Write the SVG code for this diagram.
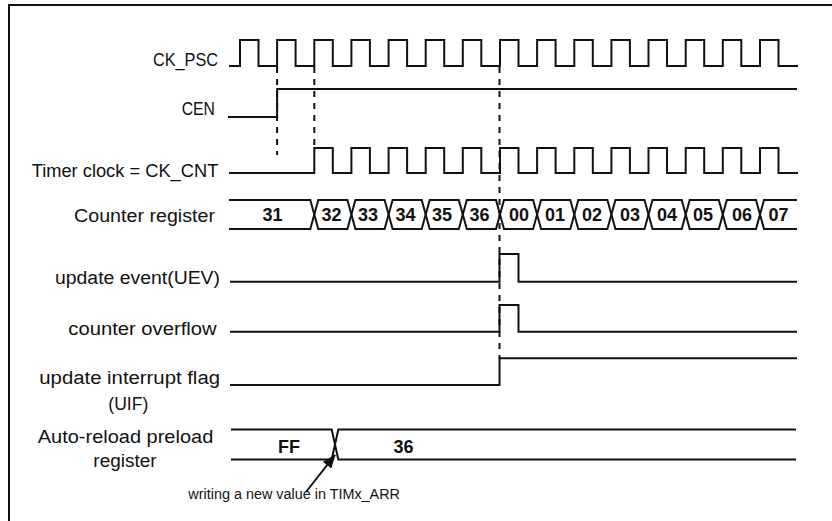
<svg xmlns="http://www.w3.org/2000/svg" width="832" height="521" viewBox="0 0 832 521">
<style>
.w{fill:none;stroke:#111;stroke-width:2;stroke-linejoin:miter}
.d{fill:none;stroke:#111;stroke-width:2;stroke-dasharray:6,6}
.l{font-family:"Liberation Sans",Arial,sans-serif;font-size:18px;fill:#111}
.v{font-family:"Liberation Sans",Arial,sans-serif;font-size:18px;font-weight:bold;fill:#111;text-anchor:middle}
.c{font-family:"Liberation Sans",Arial,sans-serif;font-size:14px;fill:#111}
</style>
<defs>
<marker id="ah" markerWidth="14" markerHeight="11" refX="13" refY="5.5" orient="auto" markerUnits="userSpaceOnUse">
<path d="M0,0 L14,5.5 L0,11 Z" fill="#111"/>
</marker>
</defs>
<rect width="832" height="521" fill="#fff"/>
<path class="w" d="M9,530 V5 H840"/>

<g id="ck_psc">
<text class="l" x="153" y="66" textLength="65" lengthAdjust="spacingAndGlyphs">CK_PSC</text>
<path class="w" d="M229,66 H240 V40 H258.5 V66 H277.1 V40 H295.6 V66 H314.3 V40 H332.8 V66 H351.4 V40 H369.9 V66 H388.6 V40 H407.1 V66 H425.7 V40 H444.2 V66 H462.8 V40 H481.3 V66 H500 V40 H518.5 V66 H537.1 V40 H555.6 V66 H574.3 V40 H592.8 V66 H611.4 V40 H629.9 V66 H648.5 V40 H667 V66 H685.7 V40 H704.2 V66 H722.8 V40 H741.3 V66 H760 V40 H778.5 V66 H798"/>
</g>

<g id="cen">
<text class="l" x="181.7" y="115" textLength="33.3" lengthAdjust="spacingAndGlyphs">CEN</text>
<path class="w" d="M228,117 H277.1 V89 H797"/>
</g>

<g id="ck_cnt">
<text class="l" x="31.7" y="176.5" textLength="186.6" lengthAdjust="spacingAndGlyphs">Timer clock = CK_CNT</text>
<path class="w" d="M229,173 H314.3 V148 H332.8 V173 H351.4 V148 H369.9 V173 H388.6 V148 H407.1 V173 H425.7 V148 H444.2 V173 H462.8 V148 H481.3 V173 H500 V148 H518.5 V173 H537.1 V148 H555.6 V173 H574.3 V148 H592.8 V173 H611.4 V148 H629.9 V173 H648.5 V148 H667 V173 H685.7 V148 H704.2 V173 H722.8 V148 H741.3 V173 H760 V148 H778.5 V173 H798"/>
</g>

<g id="counter_register">
<text class="l" x="74" y="221.5" textLength="141" lengthAdjust="spacingAndGlyphs">Counter register</text>
<path class="w" d="M229,200 H310.3 L314.3,214.5 L310.3,229 H229"/>
<path class="w" d="M314.3,214.5 L318.3,200 H347.4 L351.4,214.5 L347.4,229 H318.3 Z"/>
<path class="w" d="M351.4,214.5 L355.4,200 H384.6 L388.6,214.5 L384.6,229 H355.4 Z"/>
<path class="w" d="M388.6,214.5 L392.6,200 H421.7 L425.7,214.5 L421.7,229 H392.6 Z"/>
<path class="w" d="M425.7,214.5 L429.7,200 H458.8 L462.8,214.5 L458.8,229 H429.7 Z"/>
<path class="w" d="M462.8,214.5 L466.8,200 H496 L500,214.5 L496,229 H466.8 Z"/>
<path class="w" d="M500,214.5 L504,200 H533.1 L537.1,214.5 L533.1,229 H504 Z"/>
<path class="w" d="M537.1,214.5 L541.1,200 H570.3 L574.3,214.5 L570.3,229 H541.1 Z"/>
<path class="w" d="M574.3,214.5 L578.3,200 H607.4 L611.4,214.5 L607.4,229 H578.3 Z"/>
<path class="w" d="M611.4,214.5 L615.4,200 H644.5 L648.5,214.5 L644.5,229 H615.4 Z"/>
<path class="w" d="M648.5,214.5 L652.5,200 H681.7 L685.7,214.5 L681.7,229 H652.5 Z"/>
<path class="w" d="M685.7,214.5 L689.7,200 H718.8 L722.8,214.5 L718.8,229 H689.7 Z"/>
<path class="w" d="M722.8,214.5 L726.8,200 H756 L760,214.5 L756,229 H726.8 Z"/>
<path class="w" d="M797,200 H764 L760,214.5 L764,229 H797"/>
<text class="v" x="272.5" y="221">31</text>
<text class="v" x="331.5" y="221">32</text>
<text class="v" x="368" y="221">33</text>
<text class="v" x="405.5" y="221">34</text>
<text class="v" x="442" y="221">35</text>
<text class="v" x="479.5" y="221">36</text>
<text class="v" x="519" y="221">00</text>
<text class="v" x="555" y="221">01</text>
<text class="v" x="592" y="221">02</text>
<text class="v" x="630" y="221">03</text>
<text class="v" x="667" y="221">04</text>
<text class="v" x="703" y="221">05</text>
<text class="v" x="742" y="221">06</text>
<text class="v" x="778.5" y="221">07</text>
</g>

<g id="uev">
<text class="l" x="55" y="283.5" textLength="165" lengthAdjust="spacingAndGlyphs">update event(UEV)</text>
<path class="w" d="M230,281.7 H499.5 V254 H518.5 V281.7 H797"/>
</g>

<g id="overflow">
<text class="l" x="68.3" y="335" textLength="148.4" lengthAdjust="spacingAndGlyphs">counter overflow</text>
<path class="w" d="M230,331.7 H499.5 V305 H518.5 V331.7 H797"/>
</g>

<g id="uif">
<text class="l" x="39.3" y="383.5" textLength="180.7" lengthAdjust="spacingAndGlyphs">update interrupt flag</text>
<text class="l" x="108.3" y="409.5" textLength="40" lengthAdjust="spacingAndGlyphs">(UIF)</text>
<path class="w" d="M230,385 H499.5 V358.3 H797"/>
</g>

<g id="arr">
<text class="l" x="37.7" y="443.3" textLength="175.6" lengthAdjust="spacingAndGlyphs">Auto-reload preload</text>
<text class="l" x="93.3" y="467" textLength="63.4" lengthAdjust="spacingAndGlyphs">register</text>
<path class="w" d="M231,429.5 H331.7 L338.3,459.5 H796"/>
<path class="w" d="M231,459.5 H331.7 L338.3,429.5 H796"/>
<text class="v" x="289" y="452.5">FF</text>
<text class="v" x="403.5" y="452.5">36</text>
</g>

<g id="connectors">
<line class="d" x1="277.1" y1="67" x2="277.1" y2="155"/>
<line class="d" x1="314.3" y1="67" x2="314.3" y2="148"/>
<line class="d" x1="499.5" y1="67" x2="499.5" y2="358"/>
<line x1="306" y1="492" x2="335" y2="455" stroke="#111" stroke-width="2" marker-end="url(#ah)"/>
</g>

<text class="c" x="188.3" y="498.5" textLength="211.7" lengthAdjust="spacingAndGlyphs">writing a new value in TIMx_ARR</text>
</svg>
